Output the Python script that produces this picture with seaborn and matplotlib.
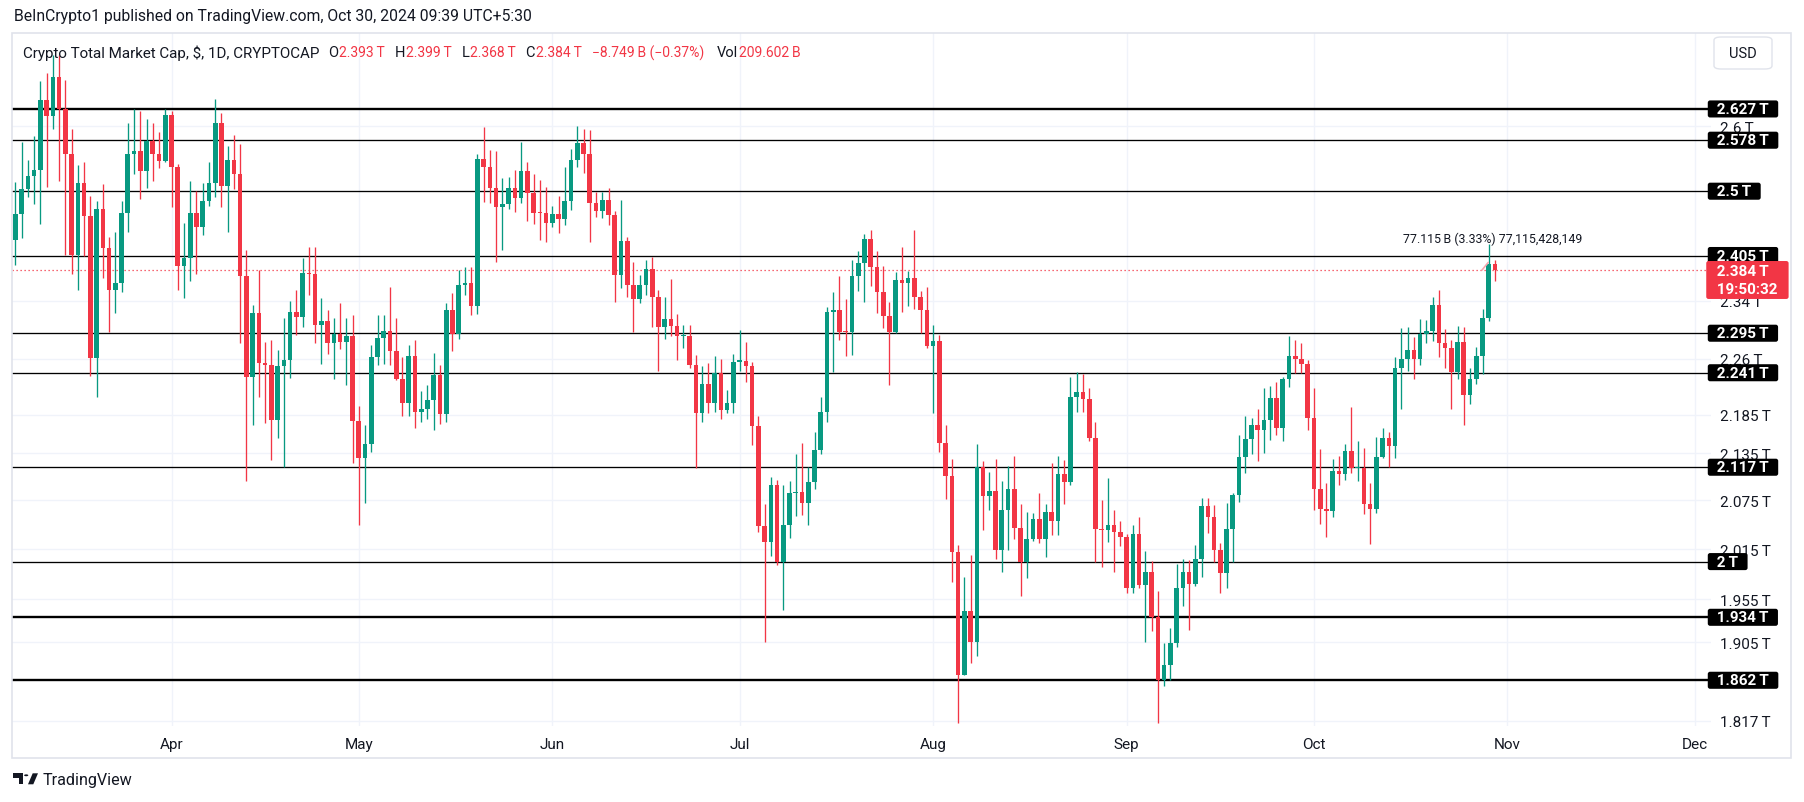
import numpy as np
import pandas as pd
import matplotlib
matplotlib.use("Agg")
import matplotlib.pyplot as plt
import matplotlib.dates as mdates
import matplotlib.transforms as mtransforms
from matplotlib.patches import Rectangle, FancyBboxPatch, Polygon, Circle
from matplotlib.ticker import FixedLocator, FixedFormatter, NullLocator
import seaborn as sns

# ---------------- data (values in trillion USD) ----------------
start_date = "2024-03-07"
first_open = 2.427

closes_mar = [2.466, 2.503, 2.523, 2.532, 2.641, 2.616, 2.678, 2.627, 2.557, 2.406, 2.512, 2.463, 2.261, 2.474, 2.416,
              2.355, 2.366, 2.468, 2.556, 2.561, 2.531, 2.577, 2.557, 2.546, 2.617]
closes_apr = [2.536, 2.390, 2.402, 2.467, 2.446, 2.485, 2.513, 2.605, 2.508, 2.547, 2.526, 2.376, 2.235, 2.323, 2.254,
              2.252, 2.178, 2.250, 2.258, 2.324, 2.318, 2.380, 2.378, 2.307, 2.312, 2.282, 2.294, 2.283, 2.291, 2.177]
closes_may = [2.129, 2.147, 2.262, 2.288, 2.298, 2.270, 2.233, 2.201, 2.264, 2.189, 2.192, 2.205, 2.238, 2.186, 2.328,
              2.294, 2.363, 2.366, 2.333, 2.549, 2.537, 2.505, 2.477, 2.481, 2.505, 2.490, 2.531, 2.498, 2.468, 2.467, 2.453]
closes_jun = [2.466, 2.459, 2.485, 2.547, 2.574, 2.556, 2.483, 2.470, 2.487, 2.464, 2.377, 2.426, 2.363, 2.343, 2.363,
              2.386, 2.346, 2.303, 2.315, 2.305, 2.291, 2.291, 2.251, 2.187, 2.226, 2.200, 2.241, 2.191, 2.200, 2.256]
closes_jul = [2.257, 2.250, 2.170, 2.043, 2.024, 2.095, 2.000, 2.044, 2.084, 2.086, 2.072, 2.098, 2.139, 2.189, 2.325,
              2.327, 2.297, 2.296, 2.375, 2.394, 2.429, 2.388, 2.352, 2.319, 2.297, 2.370, 2.366, 2.373, 2.346, 2.327, 2.278]
closes_aug = [2.284, 2.148, 2.106, 2.012, 1.868, 1.941, 1.906, 2.117, 2.081, 2.087, 2.014, 2.063, 2.089, 2.041, 2.000,
              2.028, 2.052, 2.027, 2.061, 2.050, 2.108, 2.098, 2.208, 2.215, 2.206, 2.155, 2.040, 2.038, 2.044, 2.036, 2.030]
closes_sep = [1.969, 2.033, 1.972, 1.988, 1.934, 1.862, 1.879, 1.904, 1.969, 1.988, 1.973, 2.003, 2.068, 2.055, 2.014,
              1.986, 2.040, 2.082, 2.130, 2.153, 2.172, 2.165, 2.178, 2.207, 2.168, 2.232, 2.264, 2.260, 2.253, 2.181]
closes_oct = [2.090, 2.064, 2.062, 2.112, 2.109, 2.138, 2.116, 2.116, 2.070, 2.065, 2.130, 2.154, 2.144, 2.247, 2.259,
              2.272, 2.259, 2.294, 2.298, 2.334, 2.281, 2.275, 2.242, 2.283, 2.211, 2.232, 2.264, 2.316, 2.393, 2.384]

highs_mar = [2.514, 2.575, 2.548, 2.585, 2.672, 2.685, 2.713, 2.713, 2.674, 2.596, 2.540, 2.544, 2.493, 2.486, 2.511,
             2.432, 2.440, 2.485, 2.605, 2.627, 2.623, 2.611, 2.605, 2.591, 2.627]
highs_apr = [2.624, 2.542, 2.453, 2.516, 2.500, 2.513, 2.545, 2.643, 2.620, 2.569, 2.586, 2.572, 2.413, 2.335, 2.384,
             2.283, 2.285, 2.272, 2.316, 2.340, 2.356, 2.402, 2.417, 2.417, 2.344, 2.328, 2.316, 2.337, 2.316, 2.320]
highs_may = [2.196, 2.172, 2.279, 2.320, 2.321, 2.360, 2.316, 2.263, 2.279, 2.286, 2.217, 2.225, 2.268, 2.251, 2.337,
             2.351, 2.384, 2.388, 2.388, 2.557, 2.598, 2.563, 2.561, 2.520, 2.521, 2.532, 2.575, 2.544, 2.526, 2.517, 2.506]
highs_jun = [2.478, 2.493, 2.537, 2.564, 2.600, 2.595, 2.594, 2.499, 2.499, 2.505, 2.470, 2.487, 2.432, 2.395, 2.377,
             2.399, 2.403, 2.355, 2.346, 2.371, 2.322, 2.306, 2.306, 2.265, 2.250, 2.254, 2.264, 2.260, 2.218, 2.267]
highs_jul = [2.299, 2.283, 2.256, 2.184, 2.070, 2.105, 2.101, 2.095, 2.100, 2.134, 2.148, 2.117, 2.162, 2.208, 2.332,
             2.352, 2.375, 2.343, 2.398, 2.411, 2.437, 2.442, 2.412, 2.390, 2.338, 2.381, 2.418, 2.383, 2.442, 2.354, 2.360]
highs_aug = [2.306, 2.292, 2.171, 2.127, 2.020, 1.982, 2.008, 2.147, 2.125, 2.111, 2.128, 2.100, 2.118, 2.131, 2.071,
             2.061, 2.060, 2.085, 2.070, 2.123, 2.131, 2.126, 2.235, 2.242, 2.239, 2.221, 2.175, 2.076, 2.103, 2.063, 2.049]
highs_sep = [2.033, 2.045, 2.054, 2.013, 2.001, 1.965, 1.904, 1.922, 1.997, 2.003, 2.002, 2.020, 2.078, 2.078, 2.069,
             2.022, 2.072, 2.084, 2.158, 2.183, 2.181, 2.192, 2.221, 2.223, 2.229, 2.235, 2.291, 2.285, 2.281, 2.258]
highs_oct = [2.220, 2.141, 2.097, 2.127, 2.131, 2.147, 2.195, 2.151, 2.142, 2.097, 2.156, 2.168, 2.163, 2.263, 2.302,
             2.303, 2.290, 2.315, 2.313, 2.346, 2.356, 2.301, 2.286, 2.305, 2.303, 2.248, 2.276, 2.329, 2.422, 2.399]

lows_mar = [2.392, 2.431, 2.491, 2.481, 2.451, 2.507, 2.596, 2.516, 2.406, 2.378, 2.356, 2.405, 2.237, 2.209, 2.373,
            2.296, 2.323, 2.353, 2.440, 2.526, 2.488, 2.505, 2.516, 2.535, 2.544]
lows_apr = [2.477, 2.355, 2.344, 2.368, 2.379, 2.435, 2.478, 2.492, 2.477, 2.440, 2.504, 2.282, 2.099, 2.172, 2.208,
            2.174, 2.126, 2.154, 2.117, 2.234, 2.292, 2.303, 2.348, 2.282, 2.253, 2.267, 2.233, 2.273, 2.224, 2.122]
lows_may = [2.044, 2.072, 2.137, 2.251, 2.253, 2.252, 2.231, 2.184, 2.183, 2.168, 2.175, 2.179, 2.165, 2.173, 2.176,
            2.270, 2.287, 2.348, 2.320, 2.322, 2.484, 2.483, 2.396, 2.413, 2.474, 2.469, 2.483, 2.455, 2.451, 2.428, 2.424]
lows_jun = [2.446, 2.438, 2.449, 2.472, 2.537, 2.528, 2.425, 2.462, 2.460, 2.450, 2.338, 2.359, 2.345, 2.297, 2.337,
            2.349, 2.303, 2.244, 2.287, 2.291, 2.258, 2.275, 2.247, 2.116, 2.176, 2.187, 2.189, 2.180, 2.187, 2.187]
lows_jul = [2.244, 2.229, 2.146, 2.036, 1.906, 2.007, 1.996, 1.943, 2.029, 2.056, 2.057, 2.045, 2.090, 2.134, 2.176,
            2.242, 2.286, 2.264, 2.265, 2.354, 2.339, 2.361, 2.323, 2.302, 2.224, 2.295, 2.325, 2.333, 2.329, 2.295, 2.275]
lows_aug = [2.187, 2.137, 2.077, 1.976, 1.815, 1.872, 1.881, 1.889, 2.039, 2.063, 2.003, 1.987, 2.014, 2.028, 1.959,
            1.980, 2.025, 2.023, 2.005, 2.032, 2.032, 2.070, 2.095, 2.188, 2.188, 2.151, 2.000, 1.994, 2.024, 1.987, 2.019]
lows_sep = [1.962, 1.962, 1.969, 1.906, 1.918, 1.815, 1.856, 1.862, 1.900, 1.947, 1.919, 1.971, 1.982, 2.035, 2.000,
            1.962, 1.968, 2.000, 2.073, 2.110, 2.134, 2.125, 2.135, 2.152, 2.159, 2.151, 2.222, 2.240, 2.240, 2.165]
lows_oct = [2.063, 2.046, 2.030, 2.054, 2.094, 2.101, 2.110, 2.099, 2.058, 2.021, 2.060, 2.129, 2.117, 2.129, 2.193,
            2.244, 2.233, 2.251, 2.281, 2.284, 2.262, 2.248, 2.193, 2.233, 2.171, 2.199, 2.226, 2.239, 2.312, 2.368]

level_values = [2.627, 2.578, 2.5, 2.405, 2.295, 2.241, 2.117, 2.0, 1.934, 1.862]
level_labels = ["2.627\u2009T", "2.578\u2009T", "2.5\u2009T", "2.405\u2009T", "2.295\u2009T", "2.241\u2009T",
                "2.117\u2009T", "2\u2009T", "1.934\u2009T", "1.862\u2009T"]
thick_levels = [2.627, 1.934, 1.862]

axis_ticks = [2.6, 2.34, 2.26, 2.185, 2.135, 2.075, 2.015, 1.955, 1.905, 1.817]
axis_tick_labels = ["2.6\u2009T", "2.34\u2009T", "2.26\u2009T", "2.185\u2009T", "2.135\u2009T", "2.075\u2009T",
                    "2.015\u2009T", "1.955\u2009T", "1.905\u2009T", "1.817\u2009T"]

last_price = 2.384
last_price_label = "2.384\u2009T"
countdown_label = "19:50:32"

month_starts = ["2024-04-01", "2024-05-01", "2024-06-01", "2024-07-01", "2024-08-01",
                "2024-09-01", "2024-10-01", "2024-11-01", "2024-12-01"]
month_labels = ["Apr", "May", "Jun", "Jul", "Aug", "Sep", "Oct", "Nov", "Dec"]

header_text = "BeInCrypto1 published on TradingView.com, Oct 30, 2024 09:39 UTC+5:30"
symbol_text = "Crypto Total Market Cap, $, 1D, CRYPTOCAP"
ohlc_parts = [("O", "2.393\u2009T"), ("H", "2.399\u2009T"), ("L", "2.368\u2009T"), ("C", "2.384\u2009T")]
change_text = "\u22128.749\u2009B (\u22120.37%)"
vol_label, vol_value = "Vol", "209.602\u2009B"
measure_text = "77.115\u2009B (3.33%) 77,115,428,149"
measure_from = ("2024-10-27 22:00", 2.384)
measure_to = ("2024-10-28 22:00", 2.395)

# ---------------- style ----------------
sns.set_theme(style="white")
plt.rcParams["font.family"] = ["Roboto", "DejaVu Sans"]
plt.rcParams["axes.unicode_minus"] = True

GREEN = "#089981"
RED = "#F23645"
TXT = "#131722"
GRID = "#F0F3FA"
BORDER = "#E0E3EB"

closes = np.array(closes_mar + closes_apr + closes_may + closes_jun + closes_jul + closes_aug + closes_sep + closes_oct)
highs = np.array(highs_mar + highs_apr + highs_may + highs_jun + highs_jul + highs_aug + highs_sep + highs_oct)
lows = np.array(lows_mar + lows_apr + lows_may + lows_jun + lows_jul + lows_aug + lows_sep + lows_oct)
opens = np.concatenate([[first_open], closes[:-1]])
highs = np.maximum(highs, np.maximum(opens, closes))
lows = np.minimum(lows, np.minimum(opens, closes))

dates = pd.date_range(start_date, periods=len(closes), freq="D")
xs = mdates.date2num(dates)
up = closes >= opens
colors = np.where(up, GREEN, RED)

W, H = 1804, 803
fig = plt.figure(figsize=(W / 100, H / 100), dpi=100)
fig.patch.set_facecolor("white")

def fx(px):
    return px / W

def fy(py):
    return 1 - py / H

ax_left, ax_right, ax_top, ax_bottom = 12, 1711, 34, 727
ax = fig.add_axes([fx(ax_left), fy(ax_bottom), fx(ax_right - ax_left), (ax_bottom - ax_top) / H])
ax.set_facecolor("white")
ax.set_yscale("log")
ax.set_ylim(1.8114, 2.750)
apr1 = mdates.date2num(pd.Timestamp("2024-04-01"))
ax.set_xlim(apr1 - 25.55, apr1 + 246.6)

# axes ticks / grid
ax.yaxis.set_major_locator(FixedLocator(axis_ticks))
ax.yaxis.set_major_formatter(FixedFormatter(axis_tick_labels))
ax.yaxis.set_minor_locator(NullLocator())
ax.yaxis.tick_right()
ax.tick_params(axis="y", length=0, pad=6.5, labelsize=11, labelcolor=TXT)
ax.set_xticks(mdates.date2num(pd.to_datetime(month_starts)))
ax.set_xticklabels(month_labels)
ax.tick_params(axis="x", length=0, pad=8, labelsize=11, labelcolor=TXT)
ax.grid(True, color=GRID, lw=1.0)
ax.set_axisbelow(True)
for side in ["left", "top", "right", "bottom"]:
    ax.spines[side].set_visible(False)

# level lines
for v in level_values:
    lw = 1.7 if v in thick_levels else 0.95
    ax.axhline(v, color="black", lw=lw, zorder=2)

# dotted last-price line
ax.axhline(last_price, color=RED, lw=0.9, ls=(0, (1, 2.2)), zorder=2)

# candles
ax.vlines(xs, lows, highs, colors=colors, lw=0.95, zorder=3)
body_bottom = np.minimum(opens, closes)
body_height = np.maximum(np.abs(closes - opens), body_bottom * 0.0009)
ax.bar(xs, body_height, bottom=body_bottom, width=0.74, color=colors, lw=0, zorder=4)

# measuring-tool stroke and label
ax.plot([pd.Timestamp(measure_from[0]), pd.Timestamp(measure_to[0])], [measure_from[1], measure_to[1]],
        color="#F7A8B0", lw=1.2, zorder=5)
ax.text(pd.Timestamp("2024-10-15 06:00"), 2.430, measure_text, ha="left", va="center",
        fontsize=8.9, color=TXT, zorder=6)

# right-axis level labels
btrans = mtransforms.blended_transform_factory(ax.transAxes, ax.transData)
for v, lab in zip(level_values, level_labels):
    ax.text(0.9990, v, "\u2002" + lab + "\u2002", transform=btrans, ha="left", va="center",
            color="white", fontsize=11, fontweight="bold", clip_on=False, zorder=10,
            bbox=dict(boxstyle="round,pad=0.1,rounding_size=0.15", fc="black", ec="none"))

# last price label (two lines)
ptrans = mtransforms.offset_copy(btrans, fig=fig, x=0, y=6.0, units="dots")
ax.text(0.9990, last_price, "\u2002" + last_price_label + "\n\u2002" + countdown_label + "\u2002",
        transform=ptrans, ha="left", va="top", color="white", fontsize=11, fontweight="bold",
        linespacing=1.35, clip_on=False, zorder=11,
        bbox=dict(boxstyle="round,pad=0.2,rounding_size=0.15", fc=RED, ec="none"))

# header
fig.text(fx(14), fy(17), header_text, fontsize=11.3, color=TXT, ha="left", va="center")

# legend line
renderer = fig.canvas.get_renderer()
y_leg = 53

def put(x_px, txt, col, fs):
    t = fig.text(fx(x_px), fy(y_leg), txt, fontsize=fs, color=col, ha="left", va="center", zorder=20)
    return x_px + t.get_window_extent(renderer).width

put(23, symbol_text, TXT, 10.9)
key_x = [328, 395, 461.5, 525]
for (k, val), kx in zip(ohlc_parts, key_x):
    nx = put(kx, k, TXT, 10.5)
    put(nx + 1, val, RED, 10)
put(591.5, change_text, RED, 10)
nx = put(716.5, vol_label, TXT, 10.5)
put(nx + 1, vol_value, RED, 10)

# USD button
fig.patches.append(FancyBboxPatch((fx(1714), fy(70)), fx(58), (70 - 38) / H,
                                  boxstyle="round,pad=0,rounding_size=0.004",
                                  transform=fig.transFigure, fc="white", ec=BORDER, lw=1))
fig.text(fx(1743), fy(54), "USD", fontsize=10.5, color=TXT, ha="center", va="center")

# pane frame
fig.patches.append(Rectangle((fx(12), fy(759)), fx(1791 - 12), (759 - 34) / H,
                             transform=fig.transFigure, fill=False, ec=BORDER, lw=1.2, zorder=0))

# footer logo (simple shapes) + name
def fpt(px, py):
    return (fx(px), fy(py))

fig.patches.append(Polygon([fpt(12.7, 774.3), fpt(23.3, 774.3), fpt(23.3, 785.3), fpt(18.5, 785.3),
                            fpt(18.5, 778.6), fpt(12.7, 778.6)], closed=True, transform=fig.transFigure,
                           fc=TXT, ec="none"))
fig.patches.append(Circle(fpt(26.2, 776.3), 2.1 / W, transform=fig.transFigure, fc=TXT, ec="none"))
fig.patches.append(Polygon([fpt(28.0, 785.3), fpt(33.3, 785.3), fpt(38.0, 774.3), fpt(32.7, 774.3)],
                           closed=True, transform=fig.transFigure, fc=TXT, ec="none"))
fig.text(fx(42.5), fy(781), "TradingView", fontsize=11.6, color=TXT, ha="left", va="center")

fig.savefig("out.png", dpi=100, facecolor="white")
